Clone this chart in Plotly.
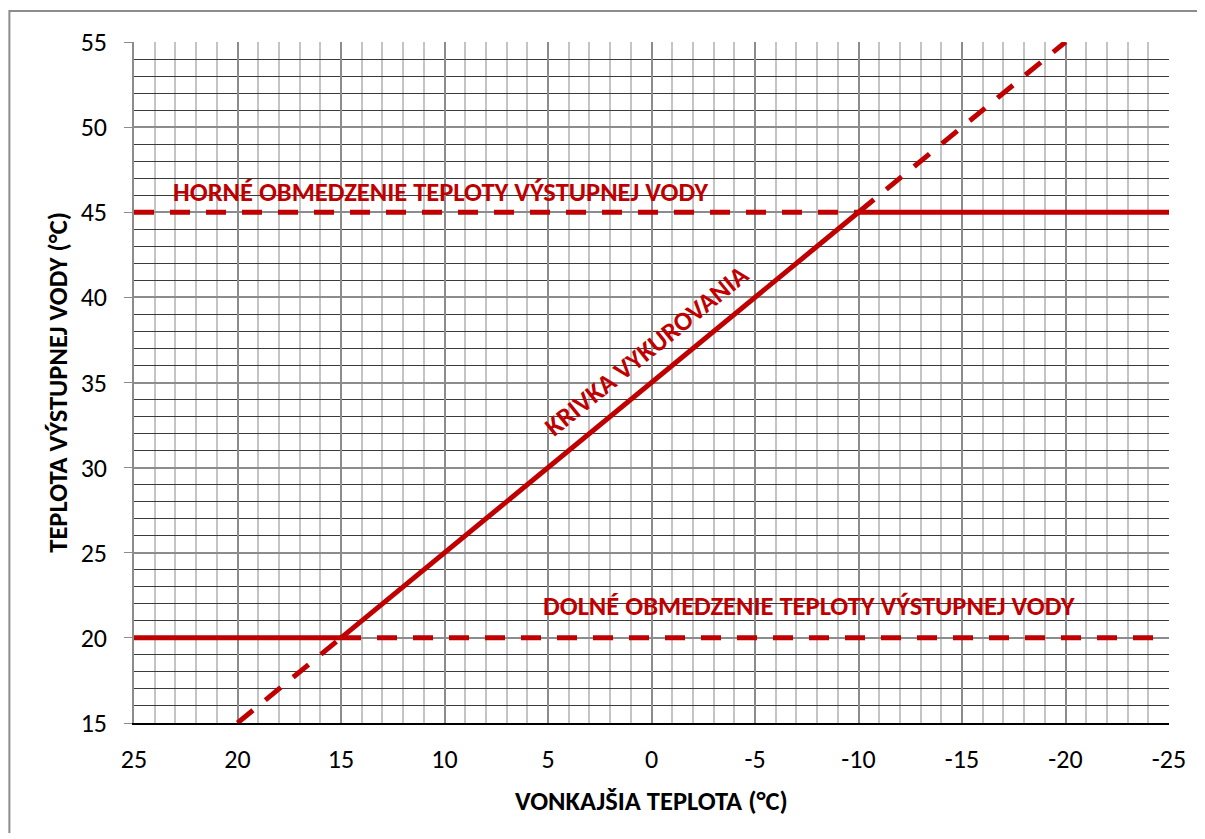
import plotly.graph_objects as go

# ---- data ----
x_range = [25, -25]
y_range = [15, 55]
x_ticks = [25, 20, 15, 10, 5, 0, -5, -10, -15, -20, -25]
x_tick_labels = ["25", "20", "15", "10", "5", "0", "-5", "-10", "-15", "-20", "-25"]
y_ticks = [15, 20, 25, 30, 35, 40, 45, 50, 55]

curve_x = [20, 15, -10, -20]          # heating curve points (outside temp)
curve_y = [15, 20, 45, 55]            # flow water temp
upper_limit = 45
lower_limit = 20
upper_cross_x = -10                   # where curve meets upper limit
lower_cross_x = 15                    # where curve meets lower limit

label_upper = "HORNÉ OBMEDZENIE TEPLOTY VÝSTUPNEJ VODY"
label_lower = "DOLNÉ OBMEDZENIE TEPLOTY VÝSTUPNEJ VODY"
label_curve = "KRIVKA VYKUROVANIA"
x_title = "VONKAJŠIA TEPLOTA (°C)"
y_title = "TEPLOTA VÝSTUPNEJ VODY (°C)"

RED = "#C00000"
W = 5
DASH = "20px,16px"

fig = go.Figure()

def seg(xs, ys, dash):
    fig.add_trace(go.Scatter(x=xs, y=ys, mode="lines",
                             line=dict(color=RED, width=W, dash=dash),
                             hoverinfo="skip", showlegend=False))

# upper limit: dashed until crossing, solid after
seg([x_range[0], upper_cross_x], [upper_limit, upper_limit], DASH)
seg([upper_cross_x, x_range[1]], [upper_limit, upper_limit], "solid")
# lower limit: solid until crossing, dashed after
seg([x_range[0], lower_cross_x], [lower_limit, lower_limit], "solid")
seg([lower_cross_x, x_range[1]], [lower_limit, lower_limit], DASH)
# heating curve
seg(curve_x[0:2], curve_y[0:2], DASH)
seg(curve_x[1:3], curve_y[1:3], "solid")
seg(curve_x[2:4], curve_y[2:4], DASH)

FONT = "Carlito, Calibri, Lato, sans-serif"
ANN = 26.5
TICK = 26

fig.add_annotation(x=10.2, y=46.2, text=f"<b>{label_upper}</b>", showarrow=False,
                   font=dict(family=FONT, size=ANN, color=RED), xanchor="center", yanchor="middle")
fig.add_annotation(x=-7.6, y=21.9, text=f"<b>{label_lower}</b>", showarrow=False,
                   font=dict(family=FONT, size=ANN, color=RED), xanchor="center", yanchor="middle")
fig.add_annotation(x=0.2, y=36.9, text=f"<b>{label_curve}</b>", showarrow=False, textangle=-39,
                   font=dict(family=FONT, size=ANN, color=RED), xanchor="center", yanchor="middle")

# axis titles placed as annotations for precise location
fig.add_annotation(xref="paper", yref="paper", x=-0.0742, y=0.50, text=f"<b>{y_title}</b>",
                   showarrow=False, textangle=-90, font=dict(family=FONT, size=ANN, color="black"),
                   xanchor="center", yanchor="middle")
fig.add_annotation(xref="paper", yref="paper", x=0.5, y=-0.115, text=f"<b>{x_title}</b>",
                   showarrow=False, font=dict(family=FONT, size=ANN, color="black"),
                   xanchor="center", yanchor="middle")

# outer chart border
fig.add_shape(type="rect", xref="paper", yref="paper", x0=-0.1204, x1=1.3, y0=-0.4, y1=1.0455,
              line=dict(color="#8C8C8C", width=2), fillcolor="rgba(0,0,0,0)", layer="below")

fig.update_layout(
    width=1190, height=825,
    margin=dict(l=126, r=26, t=34, b=110),
    paper_bgcolor="white", plot_bgcolor="white",
    font=dict(family=FONT, size=TICK, color="black"),
    xaxis=dict(range=x_range, tickvals=x_ticks, ticktext=x_tick_labels, showgrid=True,
               gridcolor="#8C8C8C", gridwidth=1.5,
               minor=dict(dtick=1, showgrid=True, gridcolor="#C4C4C4", gridwidth=1.5),
               showline=True, linecolor="black", linewidth=2, ticks="", zeroline=False,
               tickfont=dict(size=TICK), ticklabelstandoff=12),
    yaxis=dict(range=y_range, tickvals=y_ticks, showgrid=True, gridcolor="#8C8C8C", gridwidth=1.5,
               minor=dict(dtick=1, showgrid=True, gridcolor="#3A3A3A", gridwidth=1),
               showline=True, linecolor="#8C8C8C", linewidth=1.5, ticks="outside", ticklen=8,
               tickcolor="#8C8C8C", zeroline=False, tickfont=dict(size=TICK), ticklabelstandoff=12),
)

fig.write_html("out.html")
